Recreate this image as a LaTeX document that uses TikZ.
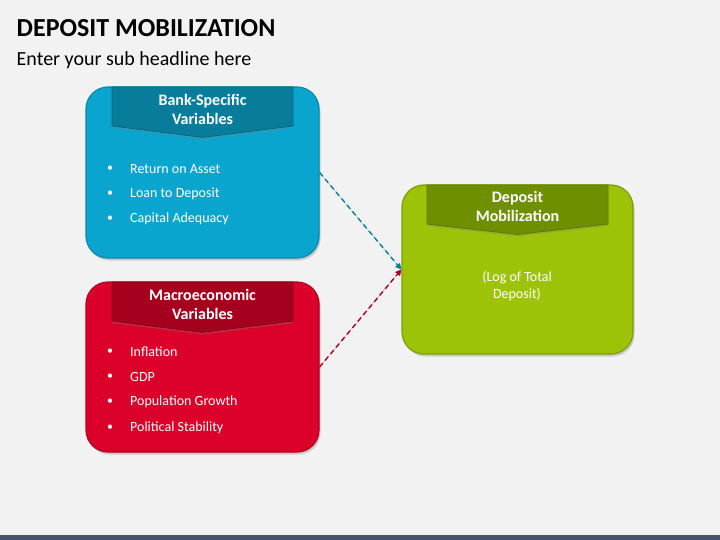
\documentclass[tikz,border=0pt]{standalone}
\usepackage{fontspec}
\setmainfont{Carlito}
\usetikzlibrary{shadows,calc,arrows.meta}
\definecolor{bg}{HTML}{F2F2F2}
\definecolor{barc}{HTML}{44546A}
\definecolor{bfill}{HTML}{0AA5CE}
\definecolor{bdark}{HTML}{087D9B}
\definecolor{bline}{HTML}{0889AB}
\definecolor{rfill}{HTML}{DA0029}
\definecolor{rdark}{HTML}{A6001F}
\definecolor{rline}{HTML}{B30022}
\definecolor{gfill}{HTML}{9DC308}
\definecolor{gdark}{HTML}{6E9000}
\definecolor{gline}{HTML}{7D9E08}
\tikzset{
  panel/.style={draw, line width=1.2pt, rounded corners=22pt, inner sep=0pt,
    drop shadow={opacity=0.35, shadow xshift=1.5pt, shadow yshift=-2.5pt}},
  banner/.style={draw, line width=0.8pt,
    drop shadow={opacity=0.35, shadow xshift=0pt, shadow yshift=-2pt}},
  headtxt/.style={text=white, font=\fontsize{16}{19}\selectfont\bfseries, align=center},
  itemtxt/.style={text=white, font=\fontsize{14}{16}\selectfont, anchor=west, inner sep=0pt},
  dot/.style={text=white, font=\fontsize{12}{13}\selectfont, inner sep=0pt},
  link/.style={dashed, dash pattern=on 5pt off 3.5pt, line width=1.4pt, -{Triangle[length=6pt,width=6pt]}}
}
\begin{document}
\begin{tikzpicture}[x=1pt,y=-1pt]
\fill[bg] (0,0) rectangle (720,540);
\useasboundingbox (0,0) rectangle (720,540);
\fill[barc] (0,535) rectangle (720,540);
% titles
\node[anchor=west, inner sep=0pt, font=\fontsize{26}{30}\selectfont\bfseries] (title) at (16.5,28) {DEPOSIT MOBILIZATION};
\node[anchor=west, inner sep=0pt, font=\fontsize{20}{24}\selectfont] (sub) at (16.5,60) {Enter your sub headline here};
% panels
\node[panel, fill=bfill, draw=bline, minimum width=233pt, minimum height=171pt] (blue) at (202.5,172.5) {};
\node[panel, fill=rfill, draw=rline, minimum width=233pt, minimum height=170pt] (red) at (202.5,367) {};
\node[panel, fill=gfill, draw=gline, minimum width=231pt, minimum height=169pt] (green) at (517.5,269.5) {};
% banners
\path[banner, fill=bdark, draw=bdark!85!black] ($(blue.north)+(-90.5,0.6)$) -- ++(181,0) -- ++(0,39) -- ($(blue.north)+(0,51)$) -- ($(blue.north)+(-90.5,39.6)$) -- cycle;
\path[banner, fill=rdark, draw=rdark!85!black] ($(red.north)+(-90.5,0.6)$) -- ++(181,0) -- ++(0,39) -- ($(red.north)+(0,51)$) -- ($(red.north)+(-90.5,39.6)$) -- cycle;
\path[banner, fill=gdark, draw=gdark!85!black] ($(green.north)+(-90.5,0.6)$) -- ++(181,0) -- ++(0,39) -- ($(green.north)+(0,50)$) -- ($(green.north)+(-90.5,39.6)$) -- cycle;
\node[headtxt] (bhead) at ($(blue.north)+(0,23.5)$) {Bank-Specific\\Variables};
\node[headtxt] (rhead) at ($(red.north)+(0,23.5)$) {Macroeconomic\\Variables};
\node[headtxt] (ghead) at ($(green.north)+(0,22.5)$) {Deposit\\Mobilization};
% blue items
\foreach \y/\t [count=\i] in {169/Return on Asset,194/Loan to Deposit,219/Capital Adequacy}{
  \node[dot] (bd\i) at (110,\y) {•};
  \node[itemtxt] (bi\i) at (130,\y) {\t};
}
% red items
\foreach \y/\t [count=\i] in {352/Inflation,377/GDP,402/Population Growth,428/Political Stability}{
  \node[dot] (rd\i) at (110,\y) {•};
  \node[itemtxt] (ri\i) at (130,\y) {\t};
}
\node[text=white, font=\fontsize{14}{17}\selectfont, align=center] (gtxt) at (517,286.5) {(Log of Total\\Deposit)};
% connectors
\draw[link, draw=bline!90!black, fill=bline!90!black] (blue.east) -- (green.west);
\draw[link, draw=rdark, fill=rdark] (red.east) -- (green.west);
\end{tikzpicture}
\end{document}
